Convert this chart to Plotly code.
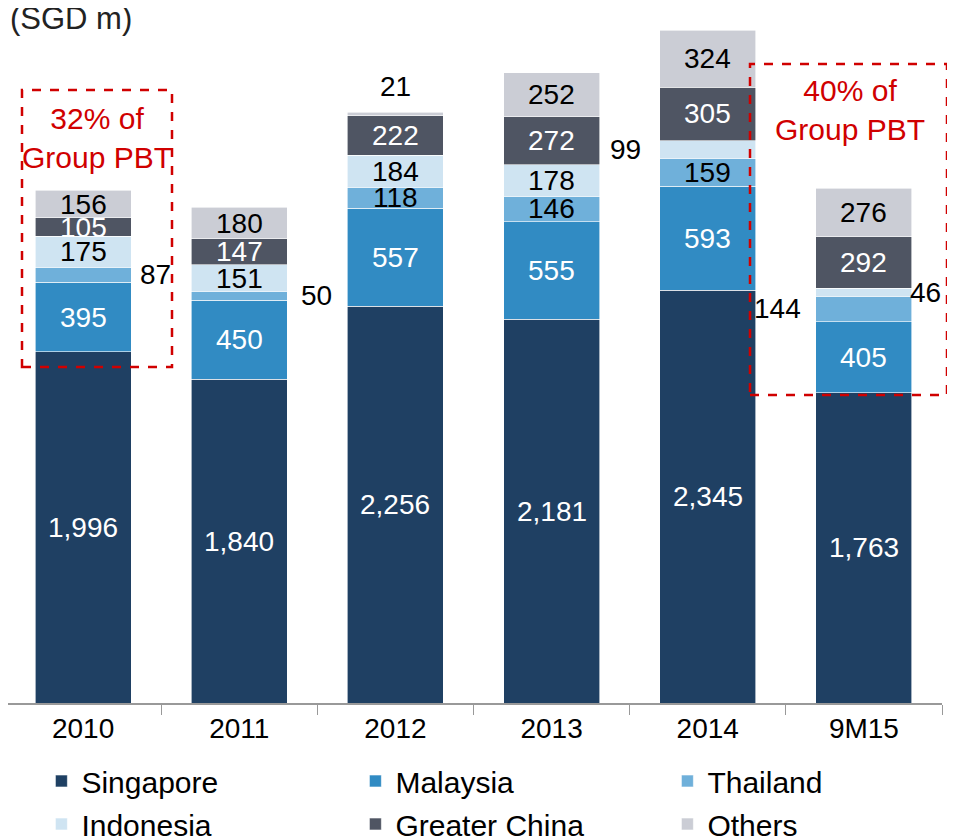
import plotly.graph_objects as go
import numpy as np

categories = ["2010", "2011", "2012", "2013", "2014", "9M15"]
series_names = ["Singapore", "Malaysia", "Thailand", "Indonesia", "Greater China", "Others"]
singapore = [1996, 1840, 2256, 2181, 2345, 1763]
malaysia = [395, 450, 557, 555, 593, 405]
thailand = [87, 50, 118, 146, 159, 144]
indonesia = [175, 151, 184, 178, 99, 46]
greater_china = [105, 147, 222, 272, 305, 292]
others = [156, 180, 21, 252, 324, 276]

colors = ["#1F4063", "#318BC3", "#6FB0DA", "#CFE4F2", "#4F5563", "#CBCDD5"]
label_colors = ["white", "white", "black", "black", "white", "black"]
values = [singapore, malaysia, thailand, indonesia, greater_china, others]

# labels placed outside the segment: (series index, category index) -> (xshift, yshift)
outside = {(2, 0): (72, 0), (2, 1): (77, 0), (5, 2): (0, 26),
           (3, 4): (-82, 0), (2, 5): (-86, 0), (3, 5): (62, 0)}

FONT = "Liberation Sans, Arial, sans-serif"
legend_names = ["legend", "legend2", "legend3", "legend4", "legend5", "legend6"]

# page is rendered with an 8px body margin: figure origin sits at page (8, 8)
OFF = 8
PLOT_W = 934      # page x 8 .. 942
PLOT_BOTTOM = 703 # page y of the axis
PLOT_H = 678      # page y 25 .. 703


def px(page_x):
    return (page_x - OFF) / PLOT_W


def py(page_y):
    return (PLOT_BOTTOM - page_y) / PLOT_H


fig = go.Figure()
for i, (name, vals) in enumerate(zip(series_names, values)):
    fig.add_trace(go.Bar(
        x=categories, y=vals, name=name,
        marker=dict(color=colors[i], line=dict(width=0.6, color="white")),
        legend=legend_names[i],
        hoverinfo="skip",
    ))

annotations = []
cum = np.zeros(len(categories))
for i, vals in enumerate(values):
    for j, v in enumerate(vals):
        center = cum[j] + v / 2
        xs, ys = 0, 0
        color = label_colors[i]
        if (i, j) in outside:
            xs, ys = outside[(i, j)]
            color = "black"
        y = cum[j] + v if (i, j) == (5, 2) else center
        annotations.append(dict(
            x=j, y=y, xref="x", yref="y", text=f"{v:,}",
            showarrow=False, xshift=xs, yshift=ys,
            font=dict(family=FONT, size=28, color=color),
        ))
    cum += np.array(vals)

annotations.append(dict(x=0, y=py(18), xref="paper", yref="paper", text="(SGD m)",
                        showarrow=False, xanchor="left", yanchor="middle",
                        font=dict(family=FONT, size=31, color="#222222")))
annotations.append(dict(x=px(97), y=py(138), xref="paper", yref="paper",
                        text="32% of<br>Group PBT", showarrow=False,
                        xanchor="center", yanchor="middle",
                        font=dict(family=FONT, size=30, color="#D00000")))
annotations.append(dict(x=px(850), y=py(110), xref="paper", yref="paper",
                        text="40% of<br>Group PBT", showarrow=False,
                        xanchor="center", yanchor="middle",
                        font=dict(family=FONT, size=30, color="#D00000")))

shapes = [
    dict(type="rect", xref="paper", yref="paper",
         x0=px(22), x1=px(172), y0=py(367), y1=py(90),
         line=dict(color="#D00000", width=2.5, dash="dash")),
    dict(type="rect", xref="paper", yref="paper",
         x0=px(750), x1=px(947), y0=py(395), y1=py(64),
         line=dict(color="#D00000", width=2.5, dash="dash")),
]

legend_common = dict(orientation="h", xanchor="left", yanchor="middle",
                     font=dict(family=FONT, size=30, color="black"),
                     bgcolor="rgba(0,0,0,0)")
col_sq = [61, 375, 687]
row_px = [781, 824]
legend_layout = {}
for k, ln in enumerate(legend_names):
    r, c = divmod(k, 3)
    legend_layout[ln] = dict(x=px(col_sq[c] - 19.6), y=py(row_px[r]), **legend_common)

cat_w = (942 - 5) / 6
x_start = -0.5 + (OFF - 5) / cat_w

fig.update_layout(
    width=947, height=830,
    margin=dict(l=0, r=947 - PLOT_W, t=PLOT_BOTTOM - PLOT_H - OFF, b=830 - (PLOT_BOTTOM - OFF),
                autoexpand=False),
    barmode="stack", bargap=0.385,
    plot_bgcolor="white", paper_bgcolor="white",
    showlegend=True,
    annotations=annotations, shapes=shapes,
    xaxis=dict(type="category", range=[x_start, 5.5], showline=True, linecolor="#999999", linewidth=1.5,
               ticks="outside", tickson="boundaries", ticklen=10, tickcolor="#999999",
               tickfont=dict(family=FONT, size=28, color="black"), showgrid=False),
    yaxis=dict(visible=False, range=[0, 3854], showgrid=False, zeroline=False),
    **legend_layout,
)

fig.write_html("out.html")
